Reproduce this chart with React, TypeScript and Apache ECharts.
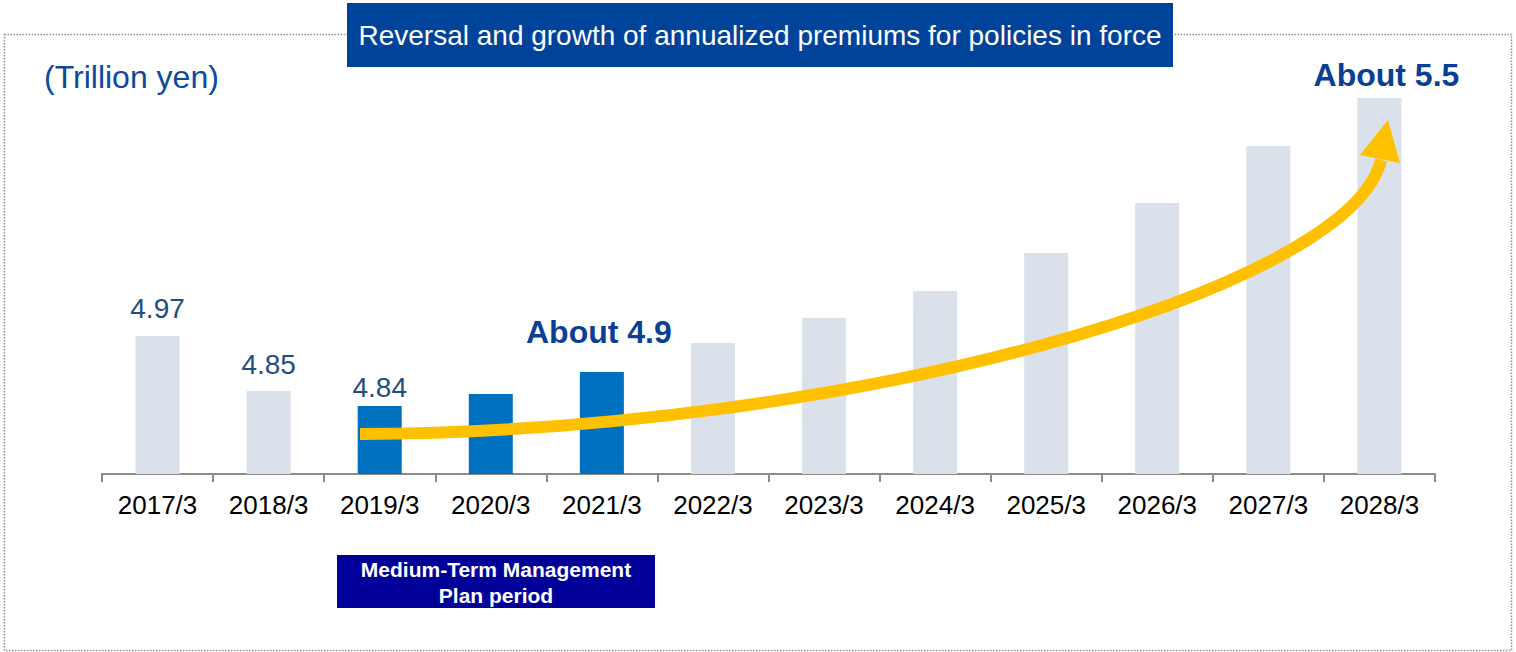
import React, { useEffect, useRef } from "react";
import * as echarts from "echarts";

// Categories (fiscal year-ends)
const categories = [
  "2017/3", "2018/3", "2019/3", "2020/3", "2021/3", "2022/3",
  "2023/3", "2024/3", "2025/3", "2026/3", "2027/3", "2028/3",
];
// Bar heights as drawn in the picture (illustrative index, not to scale of the labels)
const barHeights = [138, 83, 68, 80, 102, 131, 156, 183, 221, 271, 328, 376];
// Actual (blue) vs projected (light) bars
const isActualPlan = [false, false, true, true, true, false, false, false, false, false, false, false];
// Value labels shown above bars
const barLabels = ["4.97", "4.85", "4.84", "", "About 4.9", "", "", "", "", "", "", "About 5.5"];
const labelEmphasis = [false, false, false, false, true, false, false, false, false, false, false, true];

const FONT = "Arial, 'Liberation Sans', Helvetica, sans-serif";

export default function App() {
  const ref = useRef<HTMLDivElement>(null);
  useEffect(() => {
    if (!ref.current) return;
    const chart = echarts.init(ref.current, null, { renderer: "svg" });

    const labelDistances = [14, 13, 5, 0, 24, 0, 0, 0, 0, 0, 0, 7];
    const labelOffsetsX = [0, 0, 0, 0, -3, 0, 0, 0, 0, 0, 0, 7];

    const data = barHeights.map((v, i) => ({
      value: v,
      itemStyle: { color: isActualPlan[i] ? "#0070C0" : "#DAE1EA" },
      label: barLabels[i]
        ? {
            show: true,
            position: "top",
            distance: labelDistances[i],
            offset: [labelOffsetsX[i], 0],
            formatter: barLabels[i],
            fontFamily: FONT,
            fontSize: labelEmphasis[i] ? 32 : 28,
            fontWeight: labelEmphasis[i] ? "bold" : "normal",
            color: labelEmphasis[i] ? "#0B3F95" : "#1F4E85",
          }
        : { show: false },
    }));

    chart.setOption({
      animation: false,
      grid: { left: 102, right: 81, top: 74, bottom: 178 },
      xAxis: {
        type: "category",
        data: categories,
        axisLine: { lineStyle: { color: "#8C8C8C", width: 2 } },
        axisTick: { show: true, length: 8, lineStyle: { color: "#8C8C8C", width: 2 } },
        axisLabel: { fontFamily: FONT, fontSize: 26, color: "#000000", margin: 18 },
      },
      yAxis: {
        type: "value",
        min: 0,
        max: 400,
        show: false,
        splitLine: { show: false },
      },
      series: [
        {
          type: "bar",
          barWidth: 44,
          data,
        },
      ],
      graphic: [
        {
          type: "rect",
          z: 1,
          shape: { x: 4.5, y: 34.5, width: 1507, height: 616 },
          style: { fill: "none", stroke: "#909090", lineWidth: 1.5, lineDash: [1.5, 1.5] },
        },
        {
          type: "rect",
          z: 20,
          shape: { x: 347, y: 3, width: 826, height: 64 },
          style: { fill: "#00439A" },
        },
        {
          type: "text",
          z: 21,
          x: 760,
          y: 35,
          style: {
            text: "Reversal and growth of annualized premiums for policies in force",
            fill: "#FFFFFF",
            font: `28px ${FONT}`,
            align: "center",
            verticalAlign: "middle",
          },
        },
        {
          type: "text",
          z: 21,
          x: 44,
          y: 77,
          style: {
            text: "(Trillion yen)",
            fill: "#0B4A9E",
            font: `32px ${FONT}`,
            align: "left",
            verticalAlign: "middle",
          },
        },
        {
          type: "rect",
          z: 20,
          shape: { x: 337, y: 555, width: 318, height: 53 },
          style: { fill: "#000099" },
        },
        {
          type: "text",
          z: 21,
          x: 496,
          y: 582,
          style: {
            text: "Medium-Term Management\nPlan period",
            fill: "#FFFFFF",
            font: `bold 21px ${FONT}`,
            lineHeight: 26,
            align: "center",
            verticalAlign: "middle",
          },
        },
        {
          type: "bezierCurve",
          z: 30,
          shape: { x1: 360, y1: 434, cpx1: 850, cpy1: 432, cpx2: 1350, cpy2: 290, x2: 1381, y2: 160 },
          style: { stroke: "#FFC000", lineWidth: 12, fill: "none" },
        },
        {
          type: "polygon",
          z: 31,
          shape: { points: [[1360, 155], [1388, 120], [1400, 163]] },
          style: { fill: "#FFC000" },
        },
      ],
    });
    return () => chart.dispose();
  }, []);
  return (
    <div
      ref={ref}
      style={{ position: "absolute", left: 0, top: 0, width: 1516, height: 652, background: "#FFFFFF" }}
    />
  );
}
